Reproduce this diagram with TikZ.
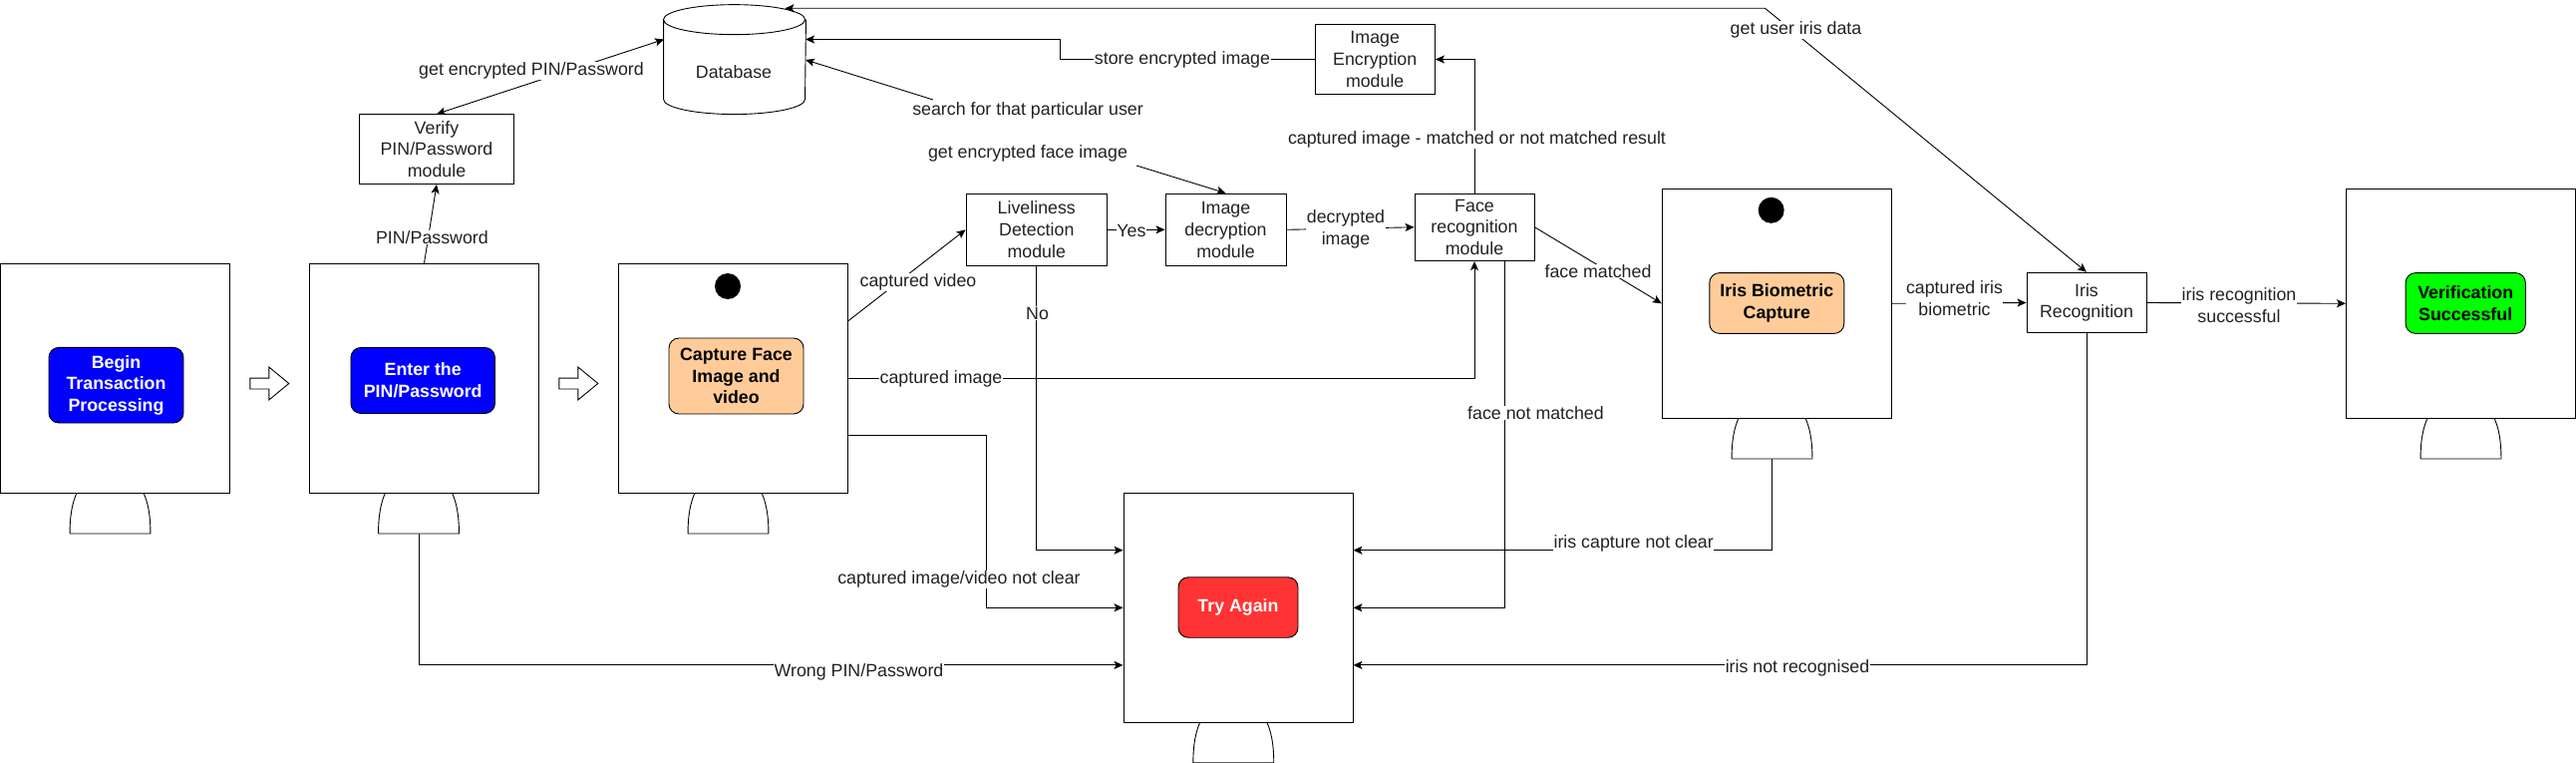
\documentclass[tikz,border=0pt]{standalone}
\usepackage{fontspec}
\setmainfont{Liberation Sans}
\usepackage{tikz}
\usetikzlibrary{shapes.arrows}
\usetikzlibrary{arrows.meta}
\newcommand{\drawfont}{\fontsize{17.8}{21.7}\selectfont}
\definecolor{boxorange}{HTML}{FFCC99}
\definecolor{boxred}{HTML}{FF3333}
\definecolor{boxgreen}{HTML}{00FF00}
\definecolor{inktext}{HTML}{222222}
\tikzstyle{screen}=[draw, inner sep=0pt, minimum size=230pt]
\tikzstyle{stand}=[inner sep=0pt, minimum width=80pt, minimum height=40pt]
\tikzstyle{lens}=[circle, fill=black, inner sep=0pt, minimum size=26pt]
\tikzstyle{nextarrow}=[draw, single arrow, inner sep=5pt, minimum height=39pt, single arrow head extend=11pt, single arrow tip angle=79]
\tikzstyle{module}=[draw, inner sep=0pt, align=center, text=inktext, font=\drawfont]
\tikzstyle{status}=[draw, rounded corners=10pt, inner sep=0pt, align=center, font=\drawfont\bfseries]
\tikzstyle{bluebox}=[status, fill=blue, text=white, minimum height=66pt]
\tikzstyle{orangebox}=[status, fill=boxorange, minimum width=135pt]
\tikzstyle{edgetext}=[fill=white, inner sep=0.5pt, align=center, text=inktext, font=\drawfont]
\tikzstyle{flow}=[-{Stealth[length=9pt,width=8pt,inset=2pt]}]
\tikzstyle{twoway}=[{Stealth[length=9pt,width=8pt,inset=2pt]}-{Stealth[length=9pt,width=8pt,inset=2pt]}]
\newcommand{\monitorstand}[2]{
    \node[stand] (#1) at (#2) {};
    \draw (#1.south west) -- (#1.south east)
        .. controls ([xshift=0pt,yshift=20pt]#1.south east) and ([xshift=-3pt,yshift=32pt]#1.south east) .. ([xshift=-7pt]#1.north east);
    \draw (#1.south west)
        .. controls ([xshift=0pt,yshift=20pt]#1.south west) and ([xshift=3pt,yshift=32pt]#1.south west) .. ([xshift=7pt]#1.north west);
}
\begin{document}
\begin{tikzpicture}[x=1pt, y=-1pt, line width=0.9pt]
    \useasboundingbox (0, 0) rectangle (2584, 765);

    % screens
    \node[screen] (scrbegin) at (115.5, 379.3) {};
    \node[screen] (scrpin) at (425.5, 379.3) {};
    \node[screen] (scrface) at (735.5, 379.3) {};
    \node[screen] (scriris) at (1782.3, 304.3) {};
    \node[screen] (scrdone) at (2468.4, 304.3) {};
    \node[screen] (scrtry) at (1242, 609.3) {};
    \monitorstand{standbegin}{110.5, 514.5}
    \monitorstand{standpin}{420, 514.5}
    \monitorstand{standface}{730.5, 514.5}
    \monitorstand{standiris}{1777.5, 439.5}
    \monitorstand{standdone}{2468.5, 439.5}
    \monitorstand{standtry}{1237.3, 744.4}
    \node[lens] (lensface) at (730, 287) {};
    \node[lens] (lensiris) at (1776.7, 210.8) {};
    \node[nextarrow] (nextpin) at (267, 384.5) {};
    \node[nextarrow] (nextface) at (577, 384.5) {};

    % buttons on the screens
    \node[bluebox, minimum width=135pt, minimum height=75.6pt] (begin) at (116.5, 386.2) {Begin\\Transaction\\Processing};
    \node[bluebox, minimum width=144.5pt] (enterpin) at (424.2, 381.5) {Enter the\\PIN/Password};
    \node[orangebox, minimum height=76pt] (capface) at (738.5, 377) {Capture Face\\Image and\\video};
    \node[orangebox, minimum height=60.8pt] (capiris) at (1782.3, 304) {Iris Biometric\\Capture};
    \node[status, fill=boxgreen, minimum width=120.3pt, minimum height=60.8pt] (success) at (2473.2, 304) {Verification\\Successful};
    \node[status, fill=boxred, text=white, minimum width=120pt, minimum height=60.5pt] (tryagain) at (1242, 609) {Try Again};

    % modules
    \node[inner sep=0pt, minimum width=142pt, minimum height=109pt] (db) at (737, 59.6) {};
    \draw ([yshift=-15pt]db.north west) arc[start angle=180, end angle=540, x radius=71pt, y radius=15pt]
        -- ([yshift=15pt]db.south west) arc[start angle=180, end angle=360, x radius=71pt, y radius=15pt]
        -- ([yshift=-15pt]db.north east);
    \node[font=\drawfont, text=inktext, inner sep=0pt] (dbtext) at (736, 71.7) {Database};
    \node[module, minimum width=155pt, minimum height=69.8pt] (verify) at (438, 149.6) {Verify\\PIN/Password\\module};
    \node[module, minimum width=141.6pt, minimum height=72.5pt] (live) at (1039.8, 230.3) {Liveliness\\Detection\\module};
    \node[module, minimum width=121pt, minimum height=72.5pt] (imgdec) at (1229.5, 230.3) {Image\\decryption\\module};
    \node[module, minimum width=120pt, minimum height=67.6pt] (facerec) at (1479, 227.8) {Face\\recognition\\module};
    \node[module, minimum width=120.5pt, minimum height=70.3pt] (imgenc) at (1379.2, 59.5) {Image\\Encryption\\module};
    \node[module, minimum width=120pt, minimum height=60.5pt] (irisrec) at (2093, 303.5) {Iris\\Recognition};

    % free ends and bends
    \coordinate (dbleft) at (666, 39.5);
    \coordinate (dbstore) at (808, 39.5);
    \coordinate (dbsearch) at (808, 60);
    \coordinate (dbtop) at (787.5, 8.3);
    \coordinate (searchend) at (936, 100);
    \coordinate (faceimgstart) at (1140, 166);
    \coordinate (bendstore) at (1063.5, 50);
    \coordinate (bendnotclear) at (989, 500);
    \coordinate (bendiris) at (1770.5, 8.3);

    % connectors
    \draw[flow] (scrpin.north) -- (verify.south);
    \draw[twoway] (verify.north) -- (dbleft);
    \draw[flow] ([yshift=57.6pt]scrface.east) -- (live.west);
    \draw[flow] (scrface.east) -| (facerec.south);
    \draw[flow] ([yshift=-57.6pt]scrface.east) -| (bendnotclear) |- (scrtry.west);
    \draw[flow] (live.south) |- ([yshift=57.6pt]scrtry.west);
    \draw[flow] (live.east) -- (imgdec.west);
    \draw[flow] (imgdec.east) -- (facerec.west);
    \draw[flow] (facerec.north) |- (imgenc.east);
    \draw[flow] (imgenc.west) -| (bendstore) |- (dbstore);
    \draw[flow] (searchend) -- (dbsearch);
    \draw[flow] (faceimgstart) -- (imgdec.north);
    \draw[flow] (facerec.east) -- (scriris.west);
    \draw[flow] ([xshift=30pt]facerec.south) |- (scrtry.east);
    \draw[flow] (standiris.south) |- ([yshift=57.6pt]scrtry.east);
    \draw[flow] (scriris.east) -- (irisrec.west);
    \draw[flow] (irisrec.east) -- (scrdone.west);
    \draw[flow] (irisrec.south) |- ([yshift=-57.6pt]scrtry.east);
    \draw[flow] (standpin.south) |- ([yshift=-57.6pt]scrtry.west);
    \draw[twoway] (irisrec.north) -- (bendiris) -- (dbtop);

    % connector labels
    \node[edgetext] (lblpin) at (433.4, 237.7) {PIN/Password};
    \node[edgetext] (lblgetpin) at (533, 71) {get encrypted PIN/Password};
    \node[edgetext] (lblvideo) at (921, 283) {captured video};
    \node[edgetext] (lblimage) at (944, 380) {captured image};
    \node[edgetext] (lblnotclear) at (962, 581) {captured image/video not clear};
    \node[edgetext] (lblno) at (1040.6, 314) {No};
    \node[edgetext] (lblyes) at (1135, 231) {Yes};
    \node[edgetext] (lbldecrypted) at (1350, 230) {decrypted\\image};
    \node[edgetext] (lblresult) at (1481.5, 140) {captured image - matched or not matched result};
    \node[edgetext] (lblstore) at (1186, 59.5) {store encrypted image};
    \node[edgetext] (lblsearch) at (1031, 111) {search for that particular user};
    \node[edgetext] (lblgetface) at (1031, 154) {get encrypted face image};
    \node[edgetext] (lblmatched) at (1603, 272) {face matched};
    \node[edgetext] (lblnotmatched) at (1540.5, 414) {face not matched};
    \node[edgetext] (lblirisclear) at (1638.7, 544.6) {iris capture not clear};
    \node[edgetext] (lblcapiris) at (1960.5, 299) {captured iris\\biometric};
    \node[edgetext] (lblirisok) at (2246, 306) {iris recognition\\successful};
    \node[edgetext] (lblirisno) at (1803, 670) {iris not recognised};
    \node[edgetext] (lblwrong) at (861.5, 673.5) {Wrong PIN/Password};
    \node[edgetext] (lbluser) at (1801.5, 30) {get user iris data};
\end{tikzpicture}
\end{document}
